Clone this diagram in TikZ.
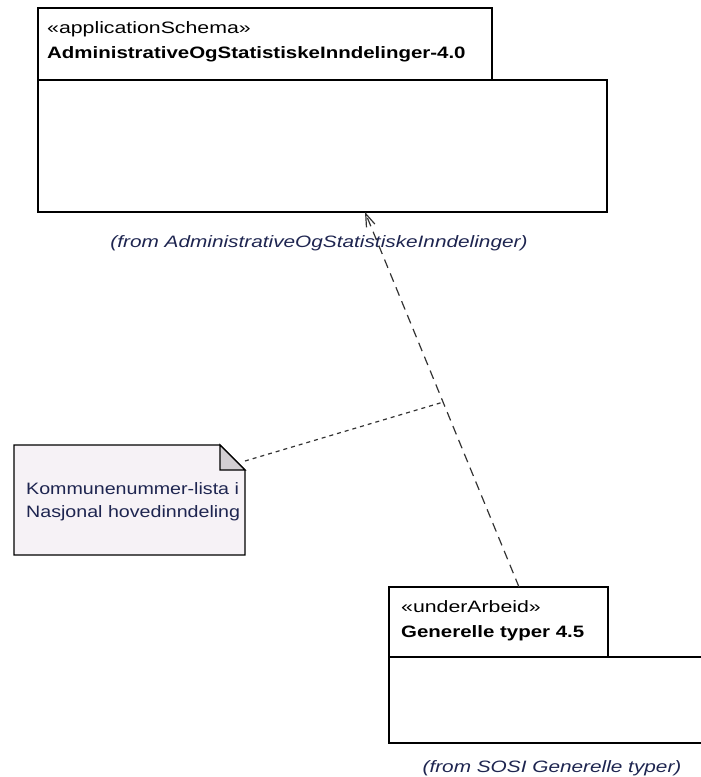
\documentclass[tikz,border=0pt]{standalone}
\usepackage{fontspec}
\setmainfont{Liberation Sans}
\newfontfamily\umlfont[FakeStretch=1.29]{Liberation Sans}
\newfontfamily\umlboldfont[FakeStretch=1.24]{Liberation Sans}
\newfontfamily\umlfromfont[FakeStretch=1.26]{Liberation Sans}
\newfontfamily\notefont[FakeStretch=1.19]{Liberation Sans}
\usetikzlibrary{arrows.meta,calc}
\definecolor{notefill}{HTML}{F6F2F6}
\definecolor{foldfill}{HTML}{D3CFD3}
\definecolor{fromtext}{HTML}{1E2550}
\definecolor{notetext}{HTML}{1E2550}
\tikzset{
  x=1pt, y=-1pt,
  pkgbox/.style={draw=black, line width=1.3pt, fill=white},
  stereo/.style={anchor=base west, inner sep=0pt, font=\umlfont\fontsize{16.5}{19}\selectfont},
  pkgname/.style={anchor=base west, inner sep=0pt, font=\umlboldfont\bfseries\fontsize{16.5}{19}\selectfont},
  fromlabel/.style={anchor=base, inner sep=0pt, text=fromtext, font=\umlfromfont\itshape\fontsize{16.5}{19}\selectfont},
  notebody/.style={draw=black, line width=1.3pt, fill=notefill},
  notelabel/.style={anchor=base west, inner sep=0pt, text=notetext, font=\notefont\fontsize{16.5}{19}\selectfont},
  dependency/.style={draw=black!80, line width=1.2pt, dash pattern=on 9pt off 6pt,
    -{Straight Barb[length=13pt,width=9pt,line width=1.2pt]}},
  notelink/.style={draw=black!80, line width=1.2pt, dash pattern=on 4pt off 4pt},
}
\begin{document}
\begin{tikzpicture}
\useasboundingbox (0,0) rectangle (701,777);

% package AdministrativeOgStatistiskeInndelinger-4.0
\draw[pkgbox] (38,8) rectangle (492,80);
\draw[pkgbox] (38,80) rectangle (607,212);
\node[stereo] (adminstereo) at (47,33) {«applicationSchema»};
\node[pkgname] (adminname) at (47,58) {AdministrativeOgStatistiskeInndelinger-4.0};
\node[fromlabel] (adminfrom) at (319,247) {(from AdministrativeOgStatistiskeInndelinger)};

% package Generelle typer 4.5 (runs off the right edge)
\draw[pkgbox] (389,587) rectangle (608,657);
\draw[pkgbox] (720,657) -- (389,657) -- (389,743) -- (720,743);
\node[stereo] (genstereo) at (401,612) {«underArbeid»};
\node[pkgname] (genname) at (401,637) {Generelle typer 4.5};
\node[fromlabel] (genfrom) at (552,772) {(from SOSI Generelle typer)};

% note with folded corner
\coordinate (noteNW) at (14,445);
\coordinate (foldA) at (220,445);
\coordinate (foldB) at (245,470);
\coordinate (noteSE) at (245,555);
\draw[notebody] (noteNW) -- (foldA) -- (foldB) -- (noteSE) -- (14,555) -- cycle;
\draw[line width=1.3pt, fill=foldfill] (foldA) -- (220,470) -- (foldB) -- cycle;
\begin{scope}
  \clip (14,445) rectangle (244,555);
  \node[notelabel] (noteline1) at (26,494) {Kommunenummer-lista i};
  \node[notelabel] (noteline2) at (26,517) {Nasjonal hovedinndeling};
\end{scope}

% dependency from Generelle typer to AdministrativeOgStatistiskeInndelinger
\coordinate (depstart) at (519,587);
\coordinate (depend) at (365,212);
\draw[dependency] (depstart) -- (depend);

% note attachment to the dependency
\coordinate (depmid) at ($(depstart)!0.493!(depend)$);
\coordinate (noteanchor) at (245,461);
\draw[notelink] (noteanchor) -- (depmid);
\end{tikzpicture}
\end{document}
